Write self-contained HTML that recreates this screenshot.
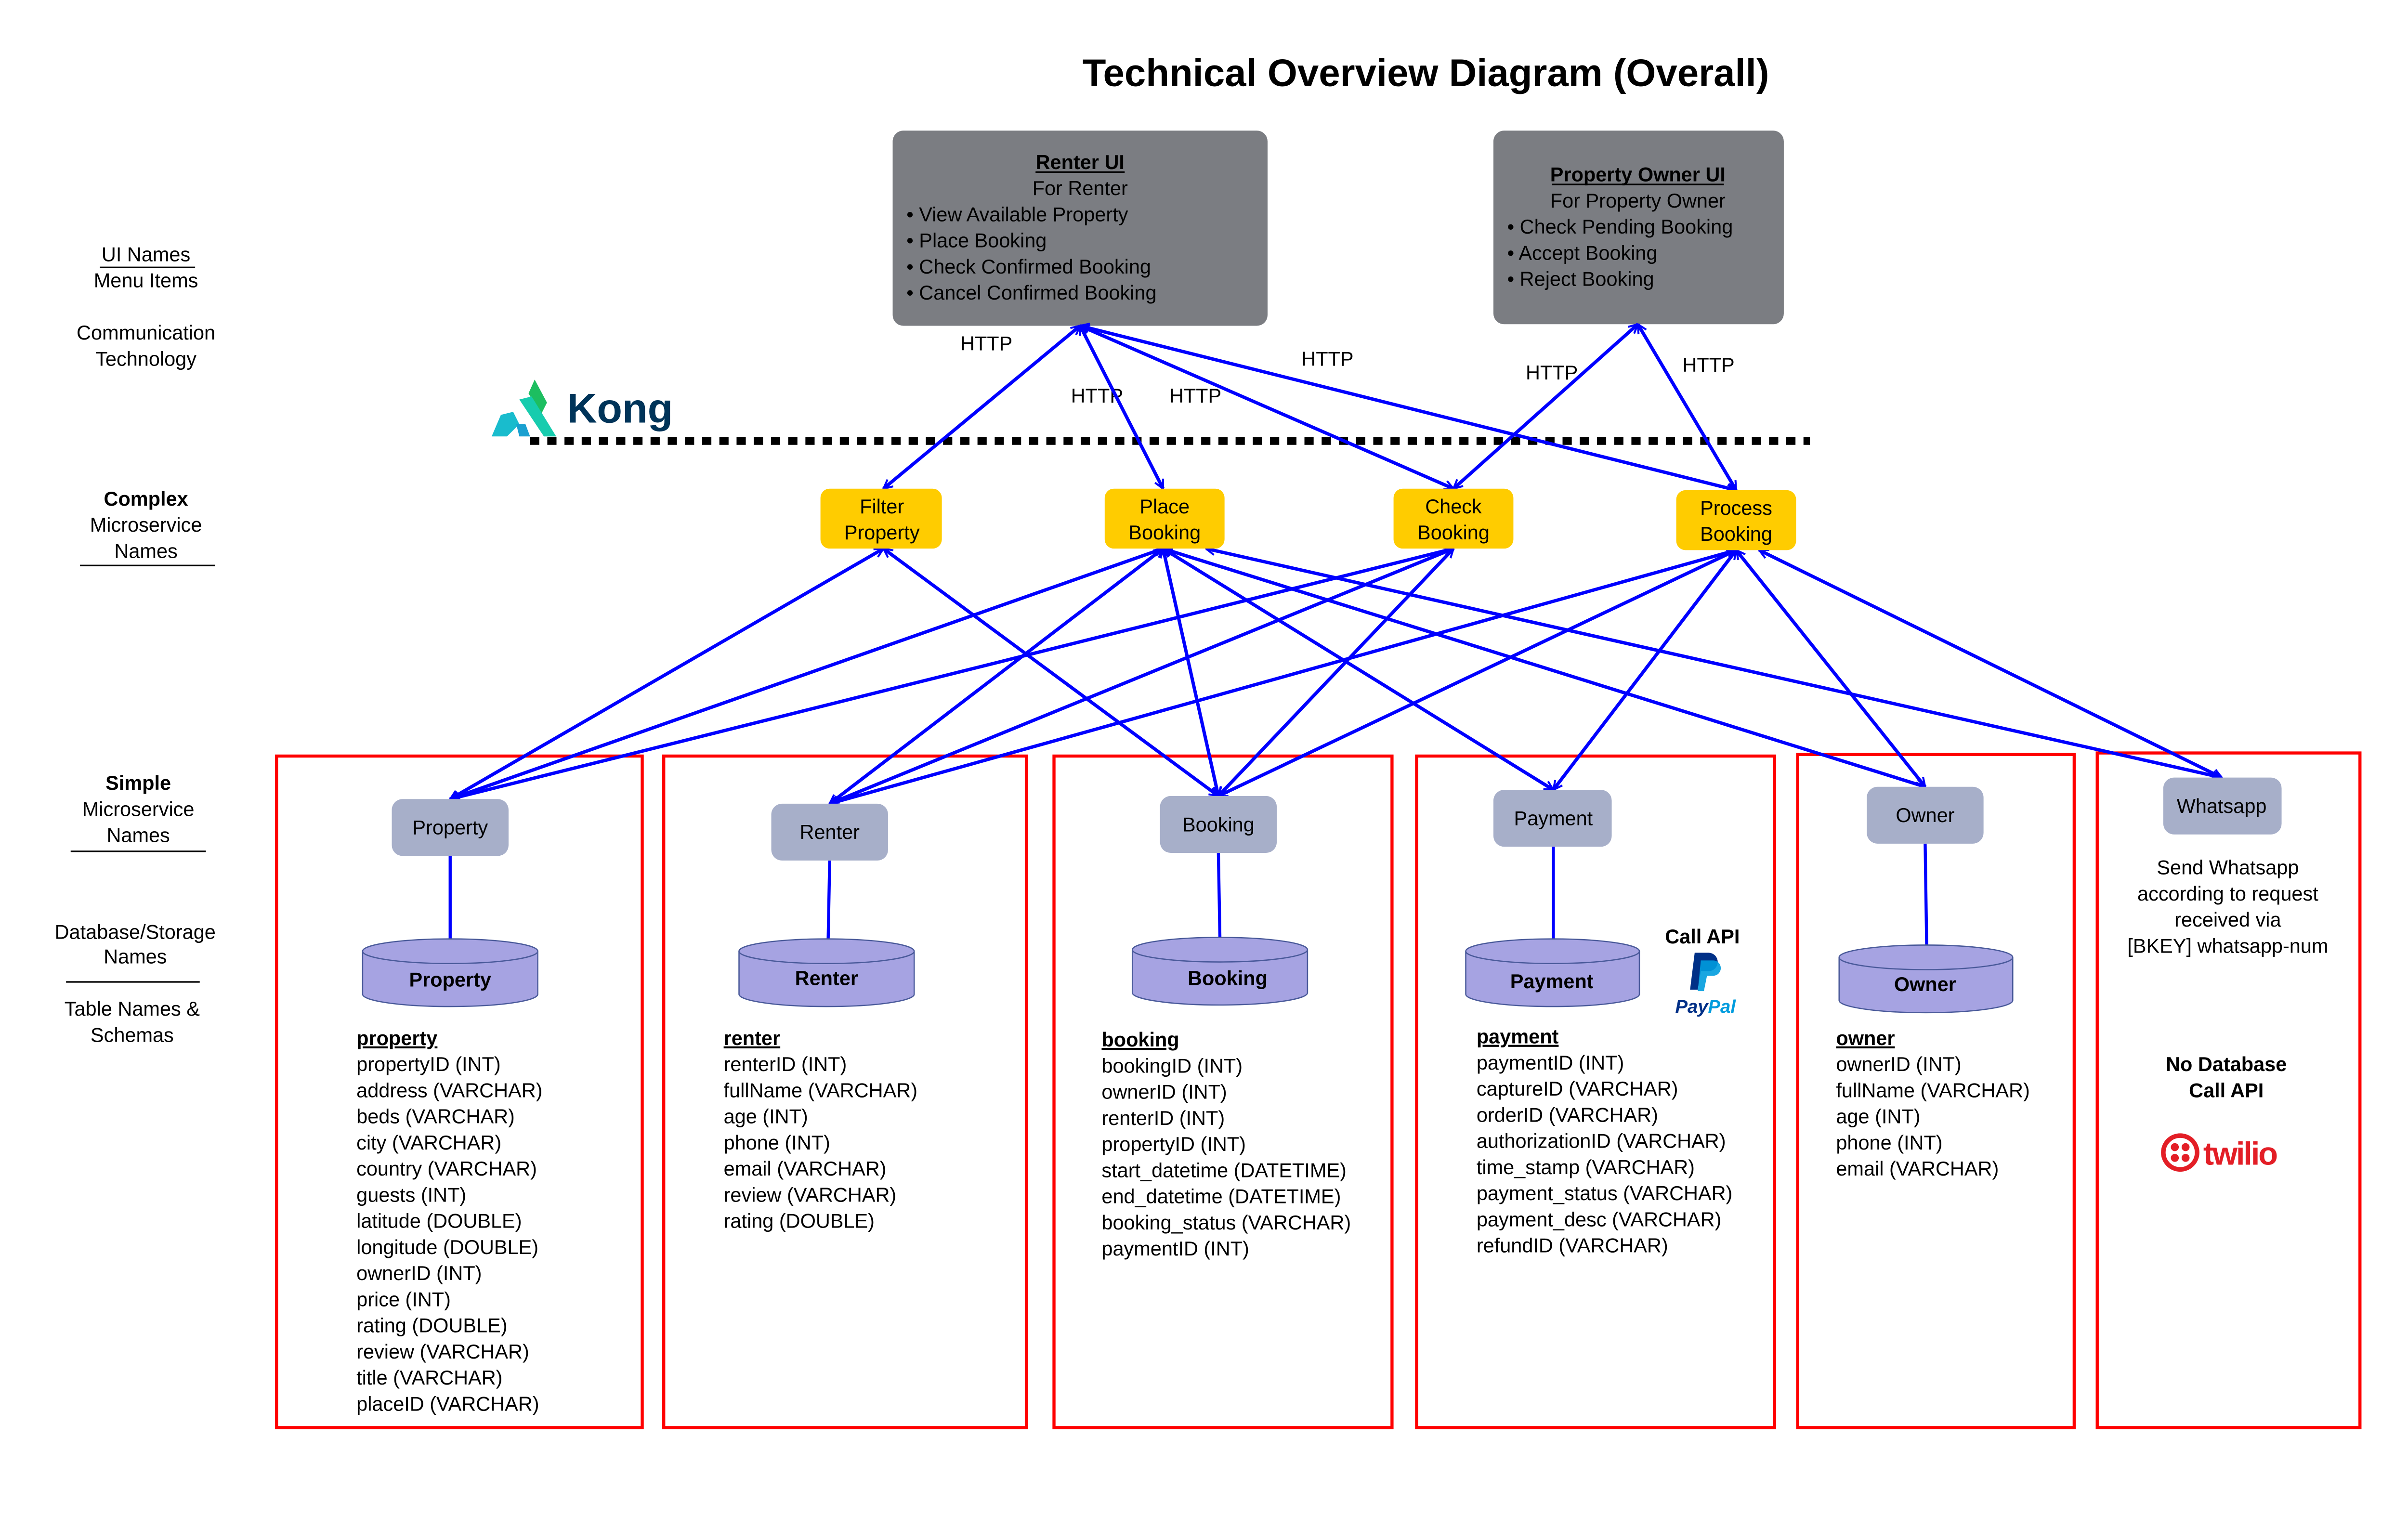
<!DOCTYPE html>
<html><head><meta charset="utf-8"><style>
html,body{margin:0;padding:0;background:#fff;}
svg{display:block;}
text{font-family:"Liberation Sans",sans-serif;}
</style></head><body>
<svg width="5181" height="3175" viewBox="0 0 1624 995" preserveAspectRatio="none" xmlns="http://www.w3.org/2000/svg">
<defs>
<marker id="a" viewBox="0 0 12 12" refX="11" refY="6" markerWidth="7" markerHeight="7" orient="auto-start-reverse" markerUnits="userSpaceOnUse">
<path d="M1,1 L11,6 L1,11" fill="none" stroke="#0000ff" stroke-width="2.2"/>
</marker>
</defs>
<rect width="1624" height="995" fill="#fff"/>
<text x="928" y="56" font-size="25" font-weight="bold" text-anchor="middle">Technical Overview Diagram (Overall)</text>

<g font-size="13" text-anchor="middle" fill="#000">
<text x="95" y="170">UI Names</text>
<line x1="65" y1="174" x2="127" y2="174" stroke="#000" stroke-width="1"/>
<text x="95" y="187">Menu Items</text>
<text x="95" y="221">Communication</text>
<text x="95" y="238">Technology</text>
<text x="95" y="329" font-weight="bold">Complex</text>
<text x="95" y="346">Microservice</text>
<text x="95" y="363">Names</text>
<line x1="52" y1="368" x2="140" y2="368" stroke="#000" stroke-width="1"/>
<text x="90" y="514" font-weight="bold">Simple</text>
<text x="90" y="531">Microservice</text>
<text x="90" y="548">Names</text>
<line x1="46" y1="554" x2="134" y2="554" stroke="#000" stroke-width="1"/>
<text x="88" y="611">Database/Storage</text>
<text x="88" y="627">Names</text>
<line x1="43" y1="639" x2="130" y2="639" stroke="#000" stroke-width="1"/>
<text x="86" y="661">Table Names &amp;</text>
<text x="86" y="678">Schemas</text>
</g>

<rect x="581" y="85" width="244" height="127" rx="7" fill="#7b7d82"/>
<g font-size="13" fill="#000">
<text x="703" y="110" text-anchor="middle" font-weight="bold">Renter UI</text>
<line x1="674" y1="112" x2="732" y2="112" stroke="#000" stroke-width="1"/>
<text x="703" y="127" text-anchor="middle">For Renter</text>
<text x="590" y="144">• View Available Property</text>
<text x="590" y="161">• Place Booking</text>
<text x="590" y="178">• Check Confirmed Booking</text>
<text x="590" y="195">• Cancel Confirmed Booking</text>
</g>
<rect x="972" y="85" width="189" height="126" rx="7" fill="#7b7d82"/>
<g font-size="13" fill="#000">
<text x="1066" y="118" text-anchor="middle" font-weight="bold">Property Owner UI</text>
<line x1="1010" y1="120" x2="1122" y2="120" stroke="#000" stroke-width="1"/>
<text x="1066" y="135" text-anchor="middle">For Property Owner</text>
<text x="981" y="152">• Check Pending Booking</text>
<text x="981" y="169">• Accept Booking</text>
<text x="981" y="186">• Reject Booking</text>
</g>

<g font-size="13" text-anchor="middle">
<text x="642" y="228">HTTP</text>
<text x="714" y="262">HTTP</text>
<text x="778" y="262">HTTP</text>
<text x="864" y="238">HTTP</text>
<text x="1010" y="247">HTTP</text>
<text x="1112" y="242">HTTP</text>
</g>

<g>
<polygon points="348,247 356,262 352,270 344,256" fill="#1dbe60"/>
<polygon points="338,260 346,258 362,284 354,284" fill="#17ccae"/>
<polygon points="326,270 334,268 338,276 330,284 320,284" fill="#19bccd"/>
<polygon points="336,276 342,276 345,284 338,284" fill="#1aa0d0"/>
<text x="369" y="275" font-size="27" font-weight="bold" fill="#003459">Kong</text>
</g>
<line x1="345" y1="287" x2="1178" y2="287" stroke="#000" stroke-width="5" stroke-dasharray="6,5.2"/>

<g fill="none" stroke="#ff0000" stroke-width="2">
<rect x="180" y="492" width="238" height="437"/>
<rect x="432" y="492" width="236" height="437"/>
<rect x="686" y="492" width="220" height="437"/>
<rect x="922" y="492" width="233" height="437"/>
<rect x="1170" y="491" width="180" height="438"/>
<rect x="1365" y="490" width="171" height="439"/>
</g>

<g stroke="#0000ff" stroke-width="2.2" fill="none" marker-start="url(#a)" marker-end="url(#a)">
<line x1="703" y1="212" x2="575" y2="318"/>
<line x1="703" y1="212" x2="757" y2="318"/>
<line x1="703" y1="212" x2="946" y2="318"/>
<line x1="703" y1="212" x2="1130" y2="319"/>
<line x1="1066" y1="211" x2="946" y2="318"/>
<line x1="1066" y1="211" x2="1130" y2="319"/>
<line x1="575" y1="357" x2="293" y2="520"/>
<line x1="575" y1="357" x2="793" y2="518"/>
<line x1="757" y1="357" x2="293" y2="520"/>
<line x1="757" y1="357" x2="540" y2="523"/>
<line x1="757" y1="357" x2="793" y2="518"/>
<line x1="757" y1="357" x2="1011" y2="514"/>
<line x1="757" y1="357" x2="1253" y2="512"/>
<line x1="785" y1="357" x2="1446" y2="506"/>
<line x1="946" y1="357" x2="293" y2="520"/>
<line x1="946" y1="357" x2="540" y2="523"/>
<line x1="946" y1="357" x2="793" y2="518"/>
<line x1="1130" y1="358" x2="540" y2="523"/>
<line x1="1130" y1="358" x2="793" y2="518"/>
<line x1="1130" y1="358" x2="1011" y2="514"/>
<line x1="1130" y1="358" x2="1253" y2="512"/>
<line x1="1145" y1="358" x2="1446" y2="506"/>
</g>

<g fill="#ffcc00">
<rect x="534" y="318" width="79" height="39" rx="6"/>
<rect x="719" y="318" width="78" height="39" rx="6"/>
<rect x="907" y="318" width="78" height="39" rx="6"/>
<rect x="1091" y="319" width="78" height="39" rx="6"/>
</g>
<g font-size="13" text-anchor="middle">
<text x="574" y="334">Filter</text><text x="574" y="351">Property</text>
<text x="758" y="334">Place</text><text x="758" y="351">Booking</text>
<text x="946" y="334">Check</text><text x="946" y="351">Booking</text>
<text x="1130" y="335">Process</text><text x="1130" y="352">Booking</text>
</g>

<g stroke="#0000ff" stroke-width="2">
<line x1="293" y1="557" x2="293" y2="612"/>
<line x1="540" y1="560" x2="539" y2="612"/>
<line x1="793" y1="555" x2="794" y2="611"/>
<line x1="1011" y1="551" x2="1011" y2="612"/>
<line x1="1253" y1="549" x2="1254" y2="616"/>
</g>

<g fill="#a7afc9">
<rect x="255" y="520" width="76" height="37" rx="7"/>
<rect x="502" y="523" width="76" height="37" rx="7"/>
<rect x="755" y="518" width="76" height="37" rx="7"/>
<rect x="972" y="514" width="77" height="37" rx="7"/>
<rect x="1215" y="512" width="76" height="37" rx="7"/>
<rect x="1408" y="506" width="77" height="37" rx="7"/>
</g>
<g font-size="13" text-anchor="middle">
<text x="293" y="543">Property</text>
<text x="540" y="546">Renter</text>
<text x="793" y="541">Booking</text>
<text x="1011" y="537">Payment</text>
<text x="1253" y="535">Owner</text>
<text x="1446" y="529">Whatsapp</text>
</g>

<g fill="#a6a3e2" stroke="#4a5a9a" stroke-width="0.8">
<path d="M236,619 v28 a57,8 0 0 0 114,0 v-28"/><ellipse cx="293" cy="619" rx="57" ry="8"/>
<path d="M481,619 v28 a57,8 0 0 0 114,0 v-28"/><ellipse cx="538" cy="619" rx="57" ry="8"/>
<path d="M737,618 v28 a57,8 0 0 0 114,0 v-28"/><ellipse cx="794" cy="618" rx="57" ry="8"/>
<path d="M954,619 v28 a56.5,8 0 0 0 113,0 v-28"/><ellipse cx="1010.5" cy="619" rx="56.5" ry="8"/>
<path d="M1197,623 v28 a56.5,8 0 0 0 113,0 v-28"/><ellipse cx="1253.5" cy="623" rx="56.5" ry="8"/>
</g>
<g font-size="13" font-weight="bold" text-anchor="middle">
<text x="293" y="642">Property</text>
<text x="538" y="641">Renter</text>
<text x="799" y="641">Booking</text>
<text x="1010" y="643">Payment</text>
<text x="1253" y="645">Owner</text>
</g>

<g font-size="13">
<text x="232" y="680" font-weight="bold" text-decoration="underline">property</text>
<text x="232" y="697">propertyID (INT)</text>
<text x="232" y="714">address (VARCHAR)</text>
<text x="232" y="731">beds (VARCHAR)</text>
<text x="232" y="748">city (VARCHAR)</text>
<text x="232" y="765">country (VARCHAR)</text>
<text x="232" y="782">guests (INT)</text>
<text x="232" y="799">latitude (DOUBLE)</text>
<text x="232" y="816">longitude (DOUBLE)</text>
<text x="232" y="833">ownerID (INT)</text>
<text x="232" y="850">price (INT)</text>
<text x="232" y="867">rating (DOUBLE)</text>
<text x="232" y="884">review (VARCHAR)</text>
<text x="232" y="901">title (VARCHAR)</text>
<text x="232" y="918">placeID (VARCHAR)</text>

<text x="471" y="680" font-weight="bold" text-decoration="underline">renter</text>
<text x="471" y="697">renterID (INT)</text>
<text x="471" y="714">fullName (VARCHAR)</text>
<text x="471" y="731">age (INT)</text>
<text x="471" y="748">phone (INT)</text>
<text x="471" y="765">email (VARCHAR)</text>
<text x="471" y="782">review (VARCHAR)</text>
<text x="471" y="799">rating (DOUBLE)</text>

<text x="717" y="681" font-weight="bold" text-decoration="underline">booking </text>
<text x="717" y="698">bookingID (INT)</text>
<text x="717" y="715">ownerID (INT)</text>
<text x="717" y="732">renterID (INT)</text>
<text x="717" y="749">propertyID (INT)</text>
<text x="717" y="766">start_datetime (DATETIME)</text>
<text x="717" y="783">end_datetime (DATETIME)</text>
<text x="717" y="800">booking_status (VARCHAR)</text>
<text x="717" y="817">paymentID (INT)</text>

<text x="961" y="679" font-weight="bold" text-decoration="underline">payment</text>
<text x="961" y="696">paymentID (INT)</text>
<text x="961" y="713">captureID (VARCHAR)</text>
<text x="961" y="730">orderID (VARCHAR)</text>
<text x="961" y="747">authorizationID (VARCHAR)</text>
<text x="961" y="764">time_stamp (VARCHAR)</text>
<text x="961" y="781">payment_status (VARCHAR)</text>
<text x="961" y="798">payment_desc (VARCHAR)</text>
<text x="961" y="815">refundID (VARCHAR)</text>

<text x="1195" y="680" font-weight="bold" text-decoration="underline">owner</text>
<text x="1195" y="697">ownerID (INT)</text>
<text x="1195" y="714">fullName (VARCHAR)</text>
<text x="1195" y="731">age (INT)</text>
<text x="1195" y="748">phone (INT)</text>
<text x="1195" y="765">email (VARCHAR)</text>
</g>

<text x="1108" y="614" font-size="13" font-weight="bold" text-anchor="middle">Call API</text>
<path d="M1103,620 h9 a6,6 0 0 1 0,12 h-5 l-2,12 h-5 z" fill="#003087"/>
<path d="M1107,625 h8 a5,5 0 0 1 0,10 h-4 l-2,10 h-4 z" fill="#009cde" opacity="0.9"/>
<text x="1110" y="659" font-size="12" font-weight="bold" font-style="italic" text-anchor="middle"><tspan fill="#003087">Pay</tspan><tspan fill="#009cde">Pal</tspan></text>

<g font-size="13" text-anchor="middle">
<text x="1450" y="569">Send Whatsapp</text>
<text x="1450" y="586">according to request</text>
<text x="1450" y="603">received via</text>
<text x="1450" y="620">[BKEY] whatsapp-num</text>
<text x="1449" y="697" font-weight="bold">No Database</text>
<text x="1449" y="714" font-weight="bold">Call API</text>
</g>
<circle cx="1419" cy="750" r="11" fill="none" stroke="#e31e26" stroke-width="3"/>
<g fill="#e31e26"><circle cx="1415.5" cy="746.5" r="2.6"/><circle cx="1422.5" cy="746.5" r="2.6"/><circle cx="1415.5" cy="753.5" r="2.6"/><circle cx="1422.5" cy="753.5" r="2.6"/></g>
<text x="1434" y="758" font-size="21" font-weight="bold" fill="#e31e26" letter-spacing="-1">twilio</text>
</svg>
</body></html>
